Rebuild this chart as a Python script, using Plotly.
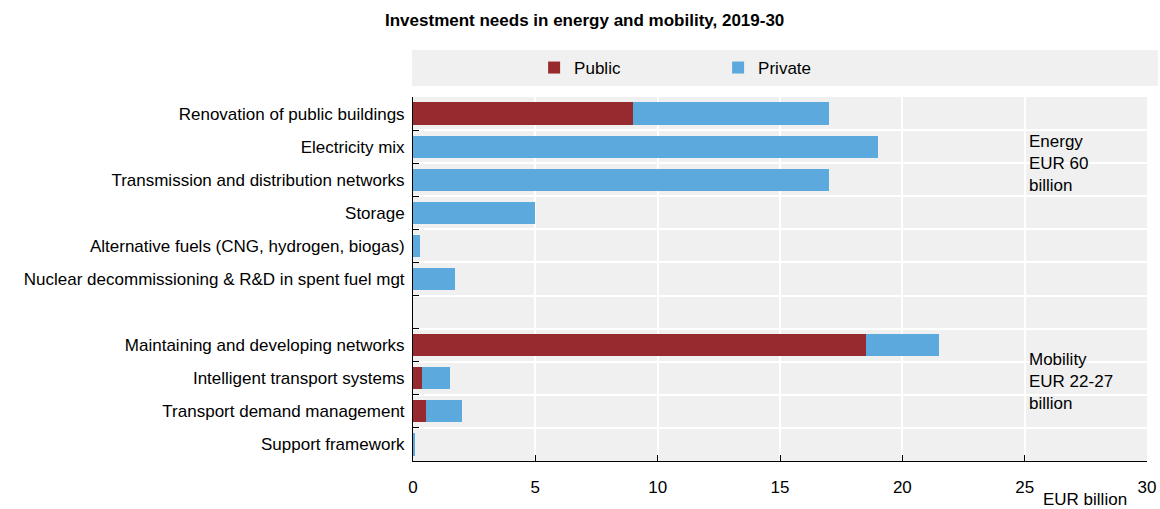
import plotly.graph_objects as go

# Categories from top to bottom; the blank entry separates energy from mobility
categories = [
    "Renovation of public buildings",
    "Electricity mix",
    "Transmission and distribution networks",
    "Storage",
    "Alternative fuels (CNG, hydrogen, biogas)",
    "Nuclear decommissioning & R&D in spent fuel mgt",
    " ",
    "Maintaining and developing networks",
    "Intelligent transport systems",
    "Transport demand management",
    "Support framework",
]
public = [9, 0, 0, 0, 0, 0, None, 18.5, 0.38, 0.52, 0]
private = [8, 19, 17, 5, 0.3, 1.7, None, 3, 1.12, 1.48, 0.1]
x_ticks = [0, 5, 10, 15, 20, 25, 30]

FONT = "Liberation Sans Narrow, Arial Narrow, Liberation Sans, Arial, sans-serif"
RED = "#962a2f"
BLUE = "#5ba9dd"
GREY = "#f0f0f0"

fig = go.Figure()
fig.add_trace(go.Bar(
    y=categories, x=public, name="Public", orientation="h",
    marker=dict(color=RED, line=dict(width=0)), width=0.67,
))
fig.add_trace(go.Bar(
    y=categories, x=private, name="Private", orientation="h",
    marker=dict(color=BLUE, line=dict(width=0)), width=0.67,
))

# Legend band
fig.add_shape(type="rect", xref="paper", yref="paper",
              x0=-0.0014, x1=1.015, y0=1.030, y1=1.129,
              fillcolor=GREY, line=dict(width=0), layer="below")

fig.add_annotation(text="<b>Investment needs in energy and mobility, 2019-30</b>",
                   xref="paper", yref="paper", x=0.234, y=1.21,
                   xanchor="center", yanchor="middle", showarrow=False,
                   font=dict(size=17, family=FONT, color="#000"))
fig.add_annotation(text="Energy<br>EUR 60<br>billion", xref="x", yref="y",
                   x=25.1, y=1.5, xanchor="left", yanchor="middle", align="left",
                   showarrow=False, font=dict(size=17, family=FONT, color="#000"))
fig.add_annotation(text="Mobility<br>EUR 22-27<br>billion", xref="x", yref="y",
                   x=25.1, y=8.1, xanchor="left", yanchor="middle", align="left",
                   showarrow=False, font=dict(size=17, family=FONT, color="#000"))
fig.add_annotation(text="EUR billion", xref="paper", yref="paper",
                   x=0.9155, y=-0.107, xanchor="center", yanchor="middle",
                   showarrow=False, font=dict(size=17, family=FONT, color="#000"))

fig.update_layout(
    width=1160, height=509,
    margin=dict(l=413, r=13, t=97, b=48, autoexpand=False),
    paper_bgcolor="white", plot_bgcolor=GREY,
    barmode="stack", bargap=0.3,
    font=dict(family=FONT, size=17, color="#000"),
    showlegend=True,
    legend=dict(orientation="h", x=0.165, y=1.0797, xanchor="left", yanchor="middle",
                traceorder="normal", bgcolor="rgba(0,0,0,0)", entrywidth=139,
                itemwidth=30, font=dict(size=17, family=FONT)),
    xaxis=dict(range=[0, 30], tickvals=x_ticks, showgrid=True, gridcolor="white",
               gridwidth=2, zeroline=False, showline=True, linecolor="black",
               linewidth=1, ticks="inside", ticklen=6, tickcolor="black",
               ticklabelstandoff=11, automargin=False,
               tickfont=dict(size=17, family=FONT)),
    yaxis=dict(categoryorder="array", categoryarray=categories, autorange="reversed",
               tickson="boundaries", showgrid=True, gridcolor="white", gridwidth=2,
               showline=True, linecolor="black", linewidth=1, ticks="inside",
               ticklen=6, tickcolor="black", ticklabelstandoff=4, automargin=False,
               tickfont=dict(size=17, family=FONT)),
)

fig.write_html("out.html")
